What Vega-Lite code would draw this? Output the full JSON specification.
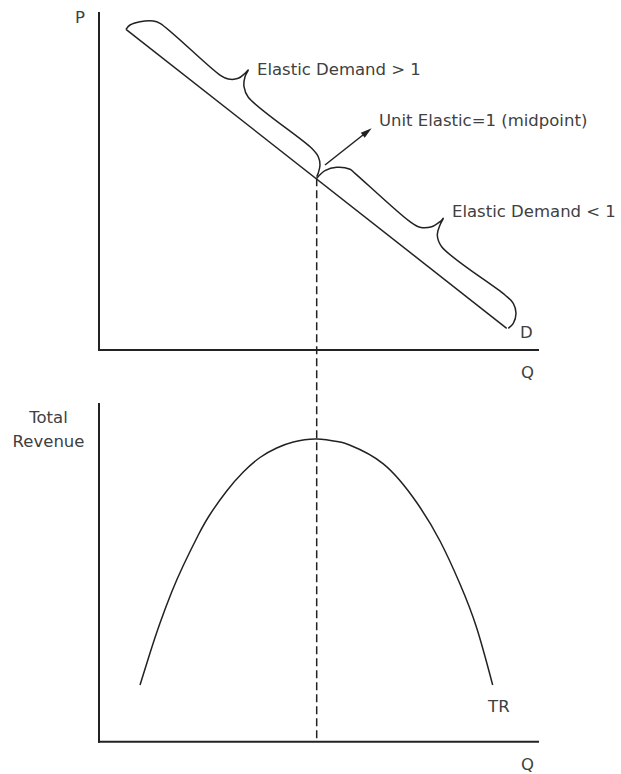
{
  "$schema": "https://vega.github.io/schema/vega-lite/v6.json",
  "width": 621,
  "height": 774,
  "padding": 0,
  "autosize": {"type": "none"},
  "background": "white",
  "config": {
    "view": {"stroke": null},
    "text": {"font": "DejaVu Sans", "fontSize": 16.5, "color": "#404040"}
  },
  "datasets": {
    "topLines": [
      {"series": "D", "i": 1, "Q": 0.615, "P": 9.516},
      {"series": "D", "i": 2, "Q": 9.287, "P": 0.644},
      {"series": "b1", "i": 1, "Q": 0.615, "P": 9.516},
      {"series": "b1", "i": 2, "Q": 0.706, "P": 9.644},
      {"series": "b1", "i": 3, "Q": 0.934, "P": 9.742},
      {"series": "b1", "i": 4, "Q": 1.237, "P": 9.763},
      {"series": "b1", "i": 5, "Q": 1.39, "P": 9.694},
      {"series": "b1", "i": 6, "Q": 2.756, "P": 8.16},
      {"series": "b1", "i": 7, "Q": 2.945, "P": 8.042},
      {"series": "b1", "i": 8, "Q": 3.173, "P": 8.062},
      {"series": "b1", "i": 9, "Q": 3.326, "P": 8.211},
      {"series": "b1", "i": 10, "Q": 3.401, "P": 8.309},
      {"series": "b1", "i": 11, "Q": 3.326, "P": 8.11},
      {"series": "b1", "i": 12, "Q": 3.303, "P": 7.813},
      {"series": "b1", "i": 13, "Q": 3.401, "P": 7.501},
      {"series": "b1", "i": 14, "Q": 4.845, "P": 5.985},
      {"series": "b1", "i": 15, "Q": 4.995, "P": 5.736},
      {"series": "b1", "i": 16, "Q": 5.034, "P": 5.49},
      {"series": "b1", "i": 17, "Q": 4.995, "P": 5.252},
      {"series": "b1", "i": 18, "Q": 4.959, "P": 5.142},
      {"series": "b2", "i": 1, "Q": 4.959, "P": 5.095},
      {"series": "b2", "i": 2, "Q": 5.148, "P": 5.32},
      {"series": "b2", "i": 3, "Q": 5.415, "P": 5.421},
      {"series": "b2", "i": 4, "Q": 5.718, "P": 5.362},
      {"series": "b2", "i": 5, "Q": 5.831, "P": 5.243},
      {"series": "b2", "i": 6, "Q": 7.084, "P": 3.807},
      {"series": "b2", "i": 7, "Q": 7.312, "P": 3.641},
      {"series": "b2", "i": 8, "Q": 7.579, "P": 3.659},
      {"series": "b2", "i": 9, "Q": 7.768, "P": 3.807},
      {"series": "b2", "i": 10, "Q": 7.843, "P": 3.908},
      {"series": "b2", "i": 11, "Q": 7.768, "P": 3.709},
      {"series": "b2", "i": 12, "Q": 7.706, "P": 3.412},
      {"series": "b2", "i": 13, "Q": 7.806, "P": 3.065},
      {"series": "b2", "i": 14, "Q": 9.248, "P": 1.632},
      {"series": "b2", "i": 15, "Q": 9.437, "P": 1.386},
      {"series": "b2", "i": 16, "Q": 9.499, "P": 1.089},
      {"series": "b2", "i": 17, "Q": 9.437, "P": 0.792},
      {"series": "b2", "i": 18, "Q": 9.323, "P": 0.644},
      {"series": "arrow", "i": 1, "Q": 5.148, "P": 5.49},
      {"series": "arrow", "i": 2, "Q": 6.128, "P": 6.499}
    ],
    "topAxes": [
      {"Q": 0, "P": 10, "Q2": 0, "P2": 0},
      {"Q": 0, "P": 0, "Q2": 10, "P2": 0}
    ],
    "arrowHead": [{"Q": 6.084, "P": 6.448}],
    "topLeftLabels": [
      {"label": "Elastic Demand > 1", "Q": 3.599, "P": 8.16},
      {"label": "Unit Elastic=1 (midpoint)", "Q": 6.378, "P": 6.647},
      {"label": "Elastic Demand < 1", "Q": 8.041, "P": 3.955},
      {"label": "D", "Q": 9.59, "P": 0.356}
    ],
    "topCenterLabels": [
      {"label": "P", "Q": -0.433, "P": 9.703},
      {"label": "Q", "Q": 9.761, "P": -0.84}
    ],
    "bottomAxes": [
      {"Q": 0, "TR": 10, "Q2": 0, "TR2": 0},
      {"Q": 0, "TR": 0, "Q2": 10, "TR2": 0}
    ],
    "trCurve": [
      {"Q": 0.934, "TR": 1.679},
      {"Q": 1.162, "TR": 2.627},
      {"Q": 1.39, "TR": 3.515},
      {"Q": 1.656, "TR": 4.433},
      {"Q": 1.92, "TR": 5.218},
      {"Q": 2.262, "TR": 6.121},
      {"Q": 2.528, "TR": 6.728},
      {"Q": 2.909, "TR": 7.424},
      {"Q": 3.287, "TR": 7.986},
      {"Q": 3.667, "TR": 8.416},
      {"Q": 4.048, "TR": 8.697},
      {"Q": 4.426, "TR": 8.872},
      {"Q": 4.959, "TR": 8.964},
      {"Q": 5.49, "TR": 8.872},
      {"Q": 5.718, "TR": 8.78},
      {"Q": 6.476, "TR": 8.229},
      {"Q": 7.237, "TR": 7.083},
      {"Q": 7.768, "TR": 5.943},
      {"Q": 8.223, "TR": 4.67},
      {"Q": 8.604, "TR": 3.367},
      {"Q": 8.968, "TR": 1.679}
    ],
    "midline": [{"Q": 4.959, "TR": 16.683, "TR2": 0}],
    "bottomLabels": [
      {"label": "Total", "Q": -1.15, "TR": 9.437},
      {"label": "Revenue", "Q": -1.15, "TR": 8.727},
      {"label": "TR", "Q": 9.108, "TR": 0.879},
      {"label": "Q", "Q": 9.761, "TR": -0.838}
    ]
  },
  "layer": [
    {
      "layer": [
        {
          "data": {"name": "topAxes"},
          "mark": {"type": "rule", "strokeWidth": 2, "color": "#222", "strokeCap": "square"},
          "encoding": {
            "x": {"field": "Q", "type": "quantitative", "scale": {"domain": [-2.2551, 11.8907], "nice": false, "zero": false}, "axis": null},
            "x2": {"field": "Q2"},
            "y": {"field": "P", "type": "quantitative", "scale": {"domain": [-12.582, 10.386], "nice": false, "zero": false}, "axis": null},
            "y2": {"field": "P2"}
          }
        },
        {
          "data": {"name": "topLines"},
          "mark": {"type": "line", "interpolate": "catmull-rom", "strokeWidth": 1.5, "color": "#222"},
          "encoding": {
            "x": {"field": "Q", "type": "quantitative", "scale": {"domain": [-2.2551, 11.8907], "nice": false, "zero": false}, "axis": null},
            "y": {"field": "P", "type": "quantitative", "scale": {"domain": [-12.582, 10.386], "nice": false, "zero": false}, "axis": null},
            "detail": {"field": "series"},
            "order": {"field": "i", "type": "quantitative"}
          }
        },
        {
          "data": {"name": "arrowHead"},
          "mark": {"type": "point", "shape": "M0,-1L0.45,0.6L-0.45,0.6Z", "filled": true, "size": 200, "angle": 51.8, "color": "#222", "opacity": 1},
          "encoding": {
            "x": {"field": "Q", "type": "quantitative", "scale": {"domain": [-2.2551, 11.8907], "nice": false, "zero": false}, "axis": null},
            "y": {"field": "P", "type": "quantitative", "scale": {"domain": [-12.582, 10.386], "nice": false, "zero": false}, "axis": null}
          }
        },
        {
          "data": {"name": "topLeftLabels"},
          "mark": {"type": "text", "align": "left", "baseline": "alphabetic"},
          "encoding": {
            "x": {"field": "Q", "type": "quantitative", "scale": {"domain": [-2.2551, 11.8907], "nice": false, "zero": false}, "axis": null},
            "y": {"field": "P", "type": "quantitative", "scale": {"domain": [-12.582, 10.386], "nice": false, "zero": false}, "axis": null},
            "text": {"field": "label"}
          }
        },
        {
          "data": {"name": "topCenterLabels"},
          "mark": {"type": "text", "align": "center", "baseline": "alphabetic"},
          "encoding": {
            "x": {"field": "Q", "type": "quantitative", "scale": {"domain": [-2.2551, 11.8907], "nice": false, "zero": false}, "axis": null},
            "y": {"field": "P", "type": "quantitative", "scale": {"domain": [-12.582, 10.386], "nice": false, "zero": false}, "axis": null},
            "text": {"field": "label"}
          }
        }
      ]
    },
    {
      "layer": [
        {
          "data": {"name": "bottomAxes"},
          "mark": {"type": "rule", "strokeWidth": 2, "color": "#222", "strokeCap": "square"},
          "encoding": {
            "x": {"field": "Q", "type": "quantitative", "scale": {"domain": [-2.2551, 11.8907], "nice": false, "zero": false}, "axis": null},
            "x2": {"field": "Q2"},
            "y": {"field": "TR", "type": "quantitative", "scale": {"domain": [-0.9565, 21.963], "nice": false, "zero": false}, "axis": null},
            "y2": {"field": "TR2"}
          }
        },
        {
          "data": {"name": "midline"},
          "mark": {"type": "rule", "strokeWidth": 1.5, "color": "#222", "strokeDash": [8, 4]},
          "encoding": {
            "x": {"field": "Q", "type": "quantitative", "scale": {"domain": [-2.2551, 11.8907], "nice": false, "zero": false}, "axis": null},
            "y": {"field": "TR", "type": "quantitative", "scale": {"domain": [-0.9565, 21.963], "nice": false, "zero": false}, "axis": null},
            "y2": {"field": "TR2"}
          }
        },
        {
          "data": {"name": "trCurve"},
          "mark": {"type": "line", "interpolate": "natural", "strokeWidth": 1.5, "color": "#222"},
          "encoding": {
            "x": {"field": "Q", "type": "quantitative", "scale": {"domain": [-2.2551, 11.8907], "nice": false, "zero": false}, "axis": null},
            "y": {"field": "TR", "type": "quantitative", "scale": {"domain": [-0.9565, 21.963], "nice": false, "zero": false}, "axis": null}
          }
        },
        {
          "data": {"name": "bottomLabels"},
          "mark": {"type": "text", "align": "center", "baseline": "alphabetic"},
          "encoding": {
            "x": {"field": "Q", "type": "quantitative", "scale": {"domain": [-2.2551, 11.8907], "nice": false, "zero": false}, "axis": null},
            "y": {"field": "TR", "type": "quantitative", "scale": {"domain": [-0.9565, 21.963], "nice": false, "zero": false}, "axis": null},
            "text": {"field": "label"}
          }
        }
      ]
    }
  ],
  "resolve": {"scale": {"y": "independent"}}
}
